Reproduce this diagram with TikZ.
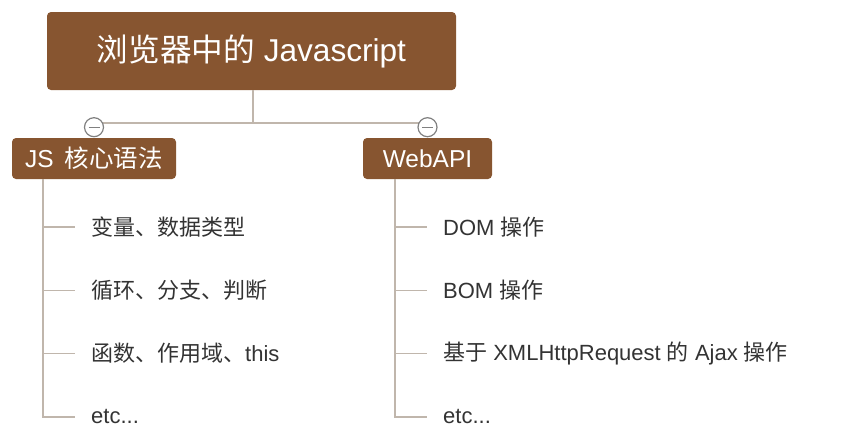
\documentclass[tikz,border=0pt]{standalone}
\usepackage{fontspec}
\setmainfont{Liberation Sans}
\newfontfamily\cjk{Noto Sans CJK SC}
\usetikzlibrary{positioning}

\definecolor{boxbrown}{RGB}{135,85,48}
\definecolor{branchgray}{RGB}{192,182,172}
\definecolor{dotgray}{RGB}{128,128,128}
\definecolor{leaftext}{RGB}{51,51,51}
\newcommand{\etcmore}{etc...}

\begin{document}
\begin{tikzpicture}[x=1pt,y=1pt,yscale=-1,
  rootbox/.style={fill=boxbrown, text=white, rounded corners=4pt, inner sep=0pt,
    minimum width=409pt, minimum height=78pt, font=\fontsize{31.6}{36}\selectfont},
  topicbox/.style={fill=boxbrown, text=white, rounded corners=4pt, inner sep=0pt,
    minimum height=41pt, font=\fontsize{24.5}{28}\selectfont},
  foldmark/.style={circle, draw=dotgray, fill=white, line width=1.2pt, minimum size=19pt, inner sep=0pt},
  leaf/.style={anchor=west, inner sep=0pt, text=leaftext, font=\fontsize{22}{26}\selectfont},
  branch/.style={draw=branchgray, line width=2.5pt},
  twig/.style={draw=branchgray, line width=1.6pt}]
\useasboundingbox (0,0) rectangle (863,447);

% Root and topics
\node[rootbox] (root) at (251.5,51) {{\cjk 浏览器中的} Javascript};
\node[topicbox, minimum width=164pt] (js) at (94,158.5) {JS\hspace{0.45em}{\cjk 核心语法}};
\node[topicbox, minimum width=129pt] (web) at (427.5,158.5) {WebAPI};

% Fork from the root
\coordinate (fork) at (253,123);
\draw[branch] (root.south -| fork) -- (fork);
\draw[branch] (js.north |- fork) -- (web.north |- fork);

% Fold marks
\foreach \n in {js,web}{
  \node[foldmark, above=0.5pt of \n] (\n dot) {};
  \draw[dotgray, line width=1.2pt] ([xshift=-5.5pt]\n dot.center) -- ([xshift=5.5pt]\n dot.center);
}

% Leaves of JS
\foreach \t [count=\i] in {{\cjk 变量、数据类型},{\cjk 循环、分支、判断},{\cjk 函数、作用域、}this,\etcmore}
  \node[leaf] (js\i) at (91,{227+(\i-1)*63.3}) {\t};
% Leaves of WebAPI
\foreach \t [count=\i] in {DOM {\cjk 操作},BOM {\cjk 操作},{\cjk 基于} XMLHttpRequest {\cjk 的} Ajax {\cjk 操作},\etcmore}
  \node[leaf] (web\i) at (443,{227+(\i-1)*63.3}) {\t};

% Twigs
\coordinate (jstrunk) at ([xshift=31pt]js.south west);
\coordinate (webtrunk) at ([xshift=32pt]web.south west);
\draw[twig] (jstrunk) |- ([xshift=-16pt]js4.west);
\draw[twig] (webtrunk) |- ([xshift=-16pt]web4.west);
\foreach \i in {1,2,3}{
  \draw[twig] (jstrunk |- js\i.west) -- ([xshift=-16pt]js\i.west);
  \draw[twig] (webtrunk |- web\i.west) -- ([xshift=-16pt]web\i.west);
}

\end{tikzpicture}
\end{document}
